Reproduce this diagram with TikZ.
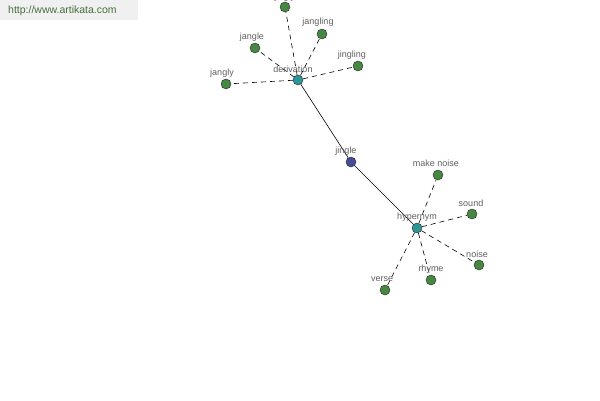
\documentclass[tikz,border=0pt]{standalone}
\usepackage{fontspec}
\setmainfont{Liberation Sans}
\definecolor{leafc}{RGB}{70,135,65}
\definecolor{hubc}{RGB}{45,150,150}
\definecolor{rootc}{RGB}{70,75,150}
\definecolor{lblc}{RGB}{95,95,95}
\definecolor{wmc}{RGB}{70,110,60}
\begin{document}
\begin{tikzpicture}[x=1pt,y=-1pt,
  dot/.style={circle,draw=black!85,line width=0.4pt,minimum size=10pt,inner sep=0pt},
  leaf/.style={dot,fill=leafc},
  hub/.style={dot,fill=hubc},
  root/.style={dot,fill=rootc},
  lbl/.style={font=\fontsize{9}{10}\selectfont,text=lblc,inner sep=0pt},
  rel/.style={line width=0.6pt,dash pattern=on 5pt off 4pt},
  main/.style={line width=0.6pt}]
\useasboundingbox (0,0) rectangle (600,400);
\fill[black!6] (0,0) rectangle (138,20);
\node[font=\fontsize{10.5}{12}\selectfont,text=wmc,anchor=west,inner sep=0pt] (wm) at (8,11) {http://www.artikata.com};
% nodes
\node[hub] (der) at (298,80) {};
\node[leaf] (jangly) at (226,84) {};
\node[leaf] (jangle) at (255,48) {};
\node[leaf] (jingly) at (285,7) {};
\node[leaf] (jangling) at (322,34) {};
\node[leaf] (jingling) at (358,66) {};
\node[root] (jingle) at (351,162) {};
\node[hub] (hyp) at (417,228) {};
\node[leaf] (mk) at (438,175) {};
\node[leaf] (sound) at (472,214) {};
\node[leaf] (noise) at (479,265) {};
\node[leaf] (rhyme) at (431,280) {};
\node[leaf] (verse) at (385,290) {};
% edges
\draw[main] (der) -- (jingle);
\draw[main] (jingle) -- (hyp);
\foreach \n in {jangly,jangle,jingly,jangling,jingling} \draw[rel] (der) -- (\n);
\foreach \n in {mk,sound,noise,rhyme,verse} \draw[rel] (hyp) -- (\n);
% labels
\node[lbl] (l1) at (293,69) {derivation};
\node[lbl] (l2) at (222,73) {jangly};
\node[lbl] (l3) at (252,37) {jangle};
\node[lbl] (l4) at (285,-3) {jingly};
\node[lbl] (l5) at (318,22) {jangling};
\node[lbl] (l6) at (352,55) {jingling};
\node[lbl] (l7) at (346,151) {jingle};
\node[lbl] (l8) at (417,217) {hypernym};
\node[lbl] (l9) at (436,163) {make noise};
\node[lbl] (l10) at (471,203) {sound};
\node[lbl] (l11) at (477,254) {noise};
\node[lbl] (l12) at (431,269) {rhyme};
\node[lbl] (l13) at (382,279) {verse};
\end{tikzpicture}
\end{document}
